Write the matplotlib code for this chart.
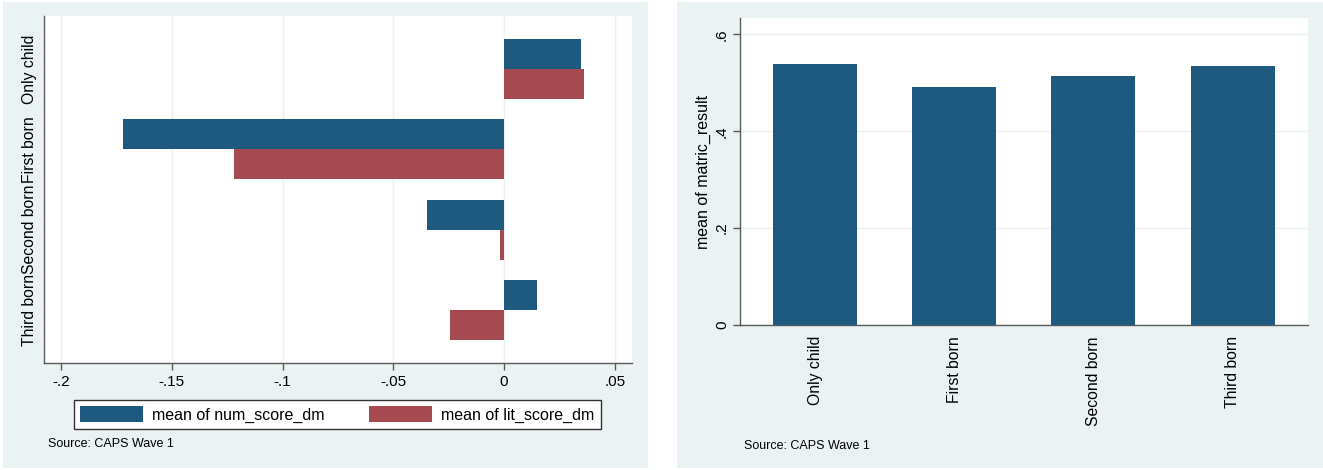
import numpy as np
import matplotlib
matplotlib.use('Agg')
import matplotlib.pyplot as plt
from matplotlib.patches import Rectangle

plt.rcParams['font.family'] = ['Liberation Sans', 'DejaVu Sans']

# data
categories = ["Only child", "First born", "Second born", "Third born"]
num_score_dm = [0.0348, -0.1722, -0.0346, 0.0150]
lit_score_dm = [0.0361, -0.1217, -0.0017, -0.0245]
matric_result = [0.538, 0.4906, 0.5133, 0.5352]

blue = '#1e5a7f'
red = '#a64a51'
panel_bg = '#eaf2f3'
axis_col = '#5a5a5a'

W, H = 1323, 470
fig = plt.figure(figsize=(W / 100, H / 100), dpi=100)
fig.patch.set_facecolor('white')


def box(x0, y0, x1, y1):
    # pixel box (top-left origin) -> figure fraction [left, bottom, width, height]
    return [x0 / W, 1 - y1 / H, (x1 - x0) / W, (y1 - y0) / H]


# panel backgrounds
for x0, x1 in [(3, 648), (677, 1323)]:
    l, b, w, h = box(x0, 2, x1, 468)
    fig.patches.append(Rectangle((l, b), w, h, transform=fig.transFigure,
                                 facecolor=panel_bg, edgecolor='none', zorder=-10))

# ---- left panel: horizontal grouped bars
ax1 = fig.add_axes(box(44, 16, 632, 363))
ax1.set_facecolor('white')
pos = np.arange(len(categories))
bh = 0.375
ax1.barh(pos - bh / 2, num_score_dm, height=bh, color=blue, label='mean of num_score_dm', zorder=3)
ax1.barh(pos + bh / 2, lit_score_dm, height=bh, color=red, label='mean of lit_score_dm', zorder=3)
ax1.set_ylim(3.658, -0.658)
ax1.set_xlim(-0.2077, 0.0578)
xt = [-0.2, -0.15, -0.1, -0.05, 0, 0.05]
ax1.set_xticks(xt)
ax1.set_xticklabels(['-.2', '-.15', '-.1', '-.05', '0', '.05'])
ax1.set_yticks(pos)
ax1.set_yticklabels(categories, rotation=90, va='center')
ax1.grid(axis='x', color=panel_bg, lw=1, zorder=1)
ax1.tick_params(axis='x', length=5, width=1, color=axis_col, labelsize=11, pad=4)
ax1.tick_params(axis='y', length=0, labelsize=11.3, pad=5)
for s in ['top', 'right']:
    ax1.spines[s].set_visible(False)
for s in ['left', 'bottom']:
    ax1.spines[s].set_color(axis_col)
    ax1.spines[s].set_linewidth(1)

l, b, w, h = box(74, 399, 601, 429)
leg = fig.legend(loc='lower left', bbox_to_anchor=(l, b, w, h), mode='expand', ncol=2,
                 fontsize=11.5, frameon=True, fancybox=False, edgecolor='#333333',
                 handlelength=3.9, handleheight=1.15, handletextpad=0.6,
                 borderpad=0.4, borderaxespad=0, columnspacing=2.0)
leg.get_frame().set_linewidth(1)
leg.get_frame().set_facecolor('white')
leg.get_frame().set_alpha(1)

fig.text(48 / W, 1 - 444 / H, 'Source: CAPS Wave 1', fontsize=9, ha='left', va='center')

# ---- right panel: vertical bars
ax2 = fig.add_axes(box(740, 18.3, 1307.7, 325))
ax2.set_facecolor('white')
ax2.bar(pos, matric_result, width=0.604, color=blue, zorder=3)
ax2.set_xlim(-0.54, 3.54)
ax2.set_ylim(0, 0.633)
ax2.set_yticks([0, 0.2, 0.4, 0.6])
ax2.set_yticklabels(['0', '.2', '.4', '.6'], rotation=90, va='center')
ax2.set_xticks(pos)
ax2.set_xticklabels(categories, rotation=90, ha='center', va='top')
ax2.grid(axis='y', color=panel_bg, lw=1, zorder=1)
ax2.tick_params(axis='y', length=5, width=1, color=axis_col, labelsize=11, pad=3)
ax2.tick_params(axis='x', length=0, labelsize=11.3, pad=8)
ax2.set_ylabel('mean of matric_result', fontsize=11.5, labelpad=3)
for s in ['top', 'right']:
    ax2.spines[s].set_visible(False)
for s in ['left', 'bottom']:
    ax2.spines[s].set_color(axis_col)
    ax2.spines[s].set_linewidth(1)

fig.text(744 / W, 1 - 446 / H, 'Source: CAPS Wave 1', fontsize=9, ha='left', va='center')

fig.savefig('out.png', dpi=100)
